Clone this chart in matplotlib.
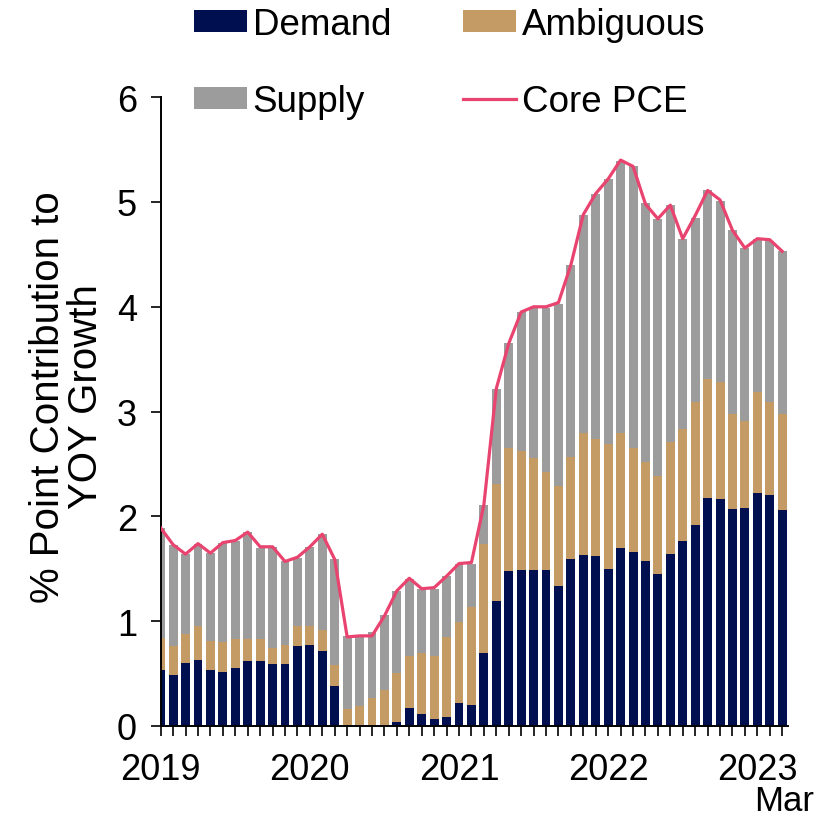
import matplotlib
matplotlib.use("Agg")
import matplotlib.pyplot as plt
import numpy as np
import pandas as pd

plt.rcParams['font.family'] = ['Liberation Sans', 'DejaVu Sans']

# Monthly categories, Jan 2019 - Mar 2023
months = pd.date_range("2019-01-01", "2023-03-01", freq="MS")

demand = [0.53, 0.49, 0.60, 0.63, 0.53, 0.52, 0.55, 0.62, 0.62, 0.59,
          0.59, 0.76, 0.77, 0.72, 0.38, 0.01, 0.01, -0.02, 0.01, 0.04,
          0.17, 0.11, 0.07, 0.09, 0.22, 0.20, 0.70, 1.19, 1.48, 1.49,
          1.49, 1.49, 1.34, 1.59, 1.63, 1.62, 1.50, 1.70, 1.66, 1.57,
          1.45, 1.64, 1.77, 1.92, 2.18, 2.17, 2.07, 2.08, 2.22, 2.20, 2.06]
ambiguous = [0.31, 0.27, 0.28, 0.32, 0.28, 0.28, 0.28, 0.21, 0.21, 0.15,
             0.18, 0.19, 0.18, 0.20, 0.20, 0.15, 0.18, 0.27, 0.33, 0.47,
             0.50, 0.59, 0.60, 0.76, 0.77, 0.94, 1.04, 1.12, 1.17, 1.13,
             1.07, 0.93, 0.95, 0.98, 1.17, 1.12, 1.19, 1.10, 0.99, 0.95,
             0.94, 1.07, 1.06, 1.17, 1.13, 1.11, 0.91, 0.83, 0.97, 0.89, 0.92]
supply = [1.05, 0.97, 0.76, 0.79, 0.84, 0.95, 0.94, 1.02, 0.87, 0.97,
          0.80, 0.65, 0.76, 0.91, 1.01, 0.70, 0.66, 0.63, 0.72, 0.78,
          0.73, 0.61, 0.64, 0.58, 0.56, 0.41, 0.37, 0.91, 1.00, 1.33,
          1.43, 1.57, 1.74, 1.83, 2.08, 2.34, 2.53, 2.59, 2.69, 2.47,
          2.45, 2.26, 1.82, 1.76, 1.80, 1.73, 1.75, 1.65, 1.46, 1.54, 1.55]
core_pce = [1.89, 1.73, 1.64, 1.74, 1.65, 1.75, 1.77, 1.85, 1.71, 1.71,
            1.57, 1.61, 1.71, 1.83, 1.59, 0.85, 0.86, 0.86, 1.05, 1.29,
            1.41, 1.31, 1.32, 1.43, 1.55, 1.56, 2.11, 3.22, 3.65, 3.95,
            4.00, 4.00, 4.04, 4.40, 4.88, 5.08, 5.22, 5.40, 5.34, 4.98,
            4.84, 4.97, 4.65, 4.87, 5.11, 5.02, 4.73, 4.56, 4.65, 4.64, 4.53]

year_labels = ['2019', '2020', '2021', '2022', '2023']

col_demand = '#000F50'
col_amb = '#C49B64'
col_supply = '#9C9C9C'
col_line = '#E8446F'

x = np.arange(len(months))
dem = np.array(demand)
amb = np.array(ambiguous)
sup = np.array(supply)
dem_pos = np.clip(dem, 0, None)

fig = plt.figure(figsize=(8.28, 8.20), dpi=100)
ax = fig.add_axes([160.7 / 828, 93 / 820, 627.7 / 828, 628.8 / 820])

w = 0.72
b_dem = ax.bar(x, dem, width=w, color=col_demand, zorder=2)
b_amb = ax.bar(x, amb, width=w, bottom=dem_pos, color=col_amb, zorder=2)
b_sup = ax.bar(x, sup, width=w, bottom=dem_pos + amb, color=col_supply, zorder=2)
l_pce, = ax.plot(x, core_pce, color=col_line, lw=2.3, zorder=3)

ax.set_xlim(0, 50.5)
ax.set_ylim(0, 6)
ax.set_yticks(range(0, 7))
ax.tick_params(axis='y', labelsize=26, length=7, width=1.2, direction='out', pad=10)

ax.set_xticks(x, minor=True)
ax.set_xticks([i for i, d in enumerate(months) if d.month == 1])
ax.set_xticklabels(year_labels)
ax.tick_params(axis='x', which='both', length=7, width=1.2, direction='out')
ax.tick_params(axis='x', which='major', labelsize=26, pad=12)

for s in ['top', 'right']:
    ax.spines[s].set_visible(False)
for s in ['left', 'bottom']:
    ax.spines[s].set_linewidth(1.4)

fig.text(814 / 828, 9 / 820, 'Mar', ha='right', va='baseline', fontsize=25)

ax.set_ylabel('% Point Contribution to\nYOY Growth', fontsize=29, linespacing=1.0)
ax.yaxis.set_label_coords(-0.088, 0.525)

# column-wise fill: col1 = Demand, Supply ; col2 = Ambiguous, Core PCE
fig.legend([b_dem, b_sup, b_amb, l_pce], ['Demand', 'Supply', 'Ambiguous', 'Core PCE'],
           ncol=2, loc='upper left', bbox_to_anchor=(190 / 828, 1 - 4 / 820),
           frameon=False, fontsize=26.5, handlelength=1.45, handleheight=0.55,
           handletextpad=0.15, columnspacing=1.95, labelspacing=1.16, borderpad=0.1,
           borderaxespad=0)

fig.savefig('out.png', dpi=100)
